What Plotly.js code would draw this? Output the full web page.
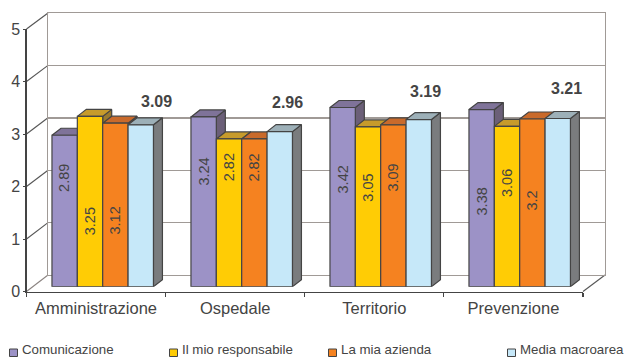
<!DOCTYPE html>
<html>
<head>
<meta charset="utf-8">
<script src="https://cdn.plot.ly/plotly-3.0.1.min.js"></script>
<style>html,body{margin:0;padding:0;background:#fff;overflow:hidden}</style>
</head>
<body>
<div id="chart" style="width:626px;height:358px"></div>
<script>
// Survey scores by macro-area
const categories = ['Amministrazione', 'Ospedale', 'Territorio', 'Prevenzione'];
const comunicazione = [2.89, 3.24, 3.42, 3.38];
const responsabile = [3.25, 2.82, 3.05, 3.06];
const azienda = [3.12, 2.82, 3.09, 3.2];
const media = [3.09, 2.96, 3.19, 3.21];
const seriesNames = ['Comunicazione', 'Il mio responsabile', 'La mia azienda', 'Media macroarea'];
const yTicks = [0, 1, 2, 3, 4, 5];

// Heights (in axis units) at which the rotated value labels sit
const labelHeights = [
  [2.07, 2.19, 2.04, 1.62],
  [1.25, 2.28, 1.89, 1.98],
  [1.27, 2.28, 2.09, 1.65]
];
// Anchor of the bold average labels, in bar-axis units
const avgLabelX = [0.386, 1.326, 2.319, 3.338];
const avgLabelY = [3.54, 3.51, 3.73, 3.79];

const W = 626, H = 358;
const fx = p => p / W, fy = p => 1 - p / H;

const values = [comunicazione, responsabile, azienda, media];
const frontColors = ['#9C92C6', '#FFCC05', '#F58220', '#C6E8F9'];
const topColors = ['#7F7399', '#C79B2B', '#C96A2B', '#9DB0B8'];
const sideColors = ['#6B5F78', '#9A7A2E', '#9A5A2A', '#7A7C7E'];
const edge = '#444444';
const ink = '#444444';
const wall = '#A09A96';
const family = '"Liberation Sans", Arial, sans-serif';

// Plot frame, in pixels
const front = { l: 26.5, r: 583, b: 291.5, t: 29 };
const back = { l: 48, r: 605, b: 275, t: 13 };
const bars = { l: 33.2, r: 589.2, b: 286.7, t: 24.7 };

const bargap = 0.27;
const barW = (1 - bargap) / 4;
const depthX = 9 / 139, depthY = 7 / 52.4;
const idx = categories.map((_, i) => i);

// Side and top faces sit behind the front faces, painted left to right
const traces = [];
values.forEach((vals, s) => {
  const xLeft = i => i - (1 - bargap) / 2 + s * barW;
  const side = { x: [], y: [] }, top = { x: [], y: [] };
  vals.forEach((v, i) => {
    const a = xLeft(i), b = a + barW;
    side.x.push(b, b + depthX, b + depthX, b, b, null);
    side.y.push(0, depthY, v + depthY, v, 0, null);
    top.x.push(a, b, b + depthX, a + depthX, a, null);
    top.y.push(v, v, v + depthY, v + depthY, v, null);
  });
  [[side, sideColors[s]], [top, topColors[s]]].forEach(([poly, color]) => {
    traces.push({
      type: 'scatter', mode: 'lines', x: poly.x, y: poly.y, xaxis: 'x3', yaxis: 'y3',
      fill: 'toself', fillcolor: color, line: { color: edge, width: 1.2 },
      hoverinfo: 'skip', showlegend: false
    });
  });
});

// Front faces
values.forEach((vals, s) => {
  traces.push({
    type: 'bar', name: seriesNames[s], x: idx, y: vals, xaxis: 'x4', yaxis: 'y4',
    marker: { color: frontColors[s], line: { color: edge, width: 1.2 } },
    showlegend: false
  });
});

// Category axis along the front of the floor
traces.push({
  type: 'scatter', mode: 'none', x: categories, y: categories.map(() => 0),
  xaxis: 'x', yaxis: 'y', hoverinfo: 'skip', showlegend: false
});
// Back wall grid
traces.push({
  type: 'scatter', mode: 'none', x: [0], y: [0],
  xaxis: 'x2', yaxis: 'y2', hoverinfo: 'skip', showlegend: false
});

const annotations = [];
labelHeights.forEach((row, s) => {
  row.forEach((h, i) => {
    annotations.push({
      xref: 'x4', yref: 'y4',
      x: i - (1 - bargap) / 2 + (s + 0.5) * barW, y: h,
      text: String(values[s][i]), textangle: -90, showarrow: false,
      font: { family, size: 14.5, color: ink }
    });
  });
});
media.forEach((v, i) => {
  annotations.push({
    xref: 'x4', yref: 'y4', x: avgLabelX[i], y: avgLabelY[i],
    text: '<b>' + v.toFixed(2) + '</b>', showarrow: false,
    font: { family, size: 16, color: ink }
  });
});

// Legend row
const legendX = [9.5, 169.5, 328.5, 507.5];
const shapes = [];
seriesNames.forEach((name, s) => {
  shapes.push({
    type: 'rect', xref: 'paper', yref: 'paper',
    x0: fx(legendX[s]), x1: fx(legendX[s] + 8), y0: fy(356.5), y1: fy(349),
    fillcolor: frontColors[s], line: { color: edge, width: 1 }
  });
  annotations.push({
    xref: 'paper', yref: 'paper', x: fx(legendX[s] + 11.5), y: fy(358),
    xanchor: 'left', yanchor: 'bottom', text: name, showarrow: false, borderpad: 0,
    font: { family, size: 13.3, color: ink }
  });
});

// Left wall and floor edges joining the front axes to the back wall
yTicks.forEach(t => {
  const u = t / 5;
  shapes.push({
    type: 'line', xref: 'paper', yref: 'paper', layer: 'below',
    x0: fx(front.l), y0: fy(front.b + (front.t - front.b) * u),
    x1: fx(back.l), y1: fy(back.b + (back.t - back.b) * u),
    line: { color: t === 0 ? '#8A8380' : '#555555', width: 1.1 }
  });
});
shapes.push({
  type: 'line', xref: 'paper', yref: 'paper', layer: 'below',
  x0: fx(front.r), y0: fy(front.b), x1: fx(back.r), y1: fy(back.b),
  line: { color: '#555555', width: 1.1 }
});

const hidden = { visible: false, fixedrange: true };
const layout = {
  width: W, height: H, autosize: false,
  margin: { l: 0, r: 0, t: 0, b: 0 },
  paper_bgcolor: '#fff', plot_bgcolor: 'rgba(0,0,0,0)',
  barmode: 'group', bargap, bargroupgap: 0,
  showlegend: false,
  font: { family, color: ink },
  xaxis: {
    domain: [fx(front.l), fx(front.r)], anchor: 'y', type: 'category',
    categoryorder: 'array', categoryarray: categories, range: [-0.5, 3.5],
    tickson: 'boundaries', ticks: 'outside', ticklen: 4, tickcolor: '#444', tickwidth: 1.2,
    ticklabelstandoff: 1,
    showline: true, linecolor: '#444', linewidth: 1.2, showgrid: false, zeroline: false,
    tickfont: { family, size: 16.5, color: ink }, fixedrange: true
  },
  yaxis: {
    domain: [fy(front.b), fy(front.t)], anchor: 'x', range: [0, 5],
    tickvals: yTicks, ticks: 'outside', ticklen: 2, tickcolor: '#444',
    showline: true, linecolor: '#444', linewidth: 1.2, showgrid: false, zeroline: false,
    tickfont: { family, size: 16, color: ink }, fixedrange: true
  },
  xaxis2: {
    domain: [fx(back.l), fx(back.r)], anchor: 'y2', range: [0, 1],
    showticklabels: false, ticks: '', showgrid: false, zeroline: false,
    showline: true, mirror: true, linecolor: wall, linewidth: 1.4, fixedrange: true
  },
  yaxis2: {
    domain: [fy(back.b), fy(back.t)], anchor: 'x2', range: [0, 5],
    tickvals: yTicks, showticklabels: false, ticks: '', showgrid: true,
    gridcolor: wall, gridwidth: 1.4, zeroline: false,
    showline: true, mirror: true, linecolor: wall, linewidth: 1.4, fixedrange: true
  },
  xaxis3: Object.assign({ domain: [fx(bars.l), fx(bars.r)], anchor: 'y3', range: [-0.5, 3.5] }, hidden),
  yaxis3: Object.assign({ domain: [fy(bars.b), fy(bars.t)], anchor: 'x3', range: [0, 5] }, hidden),
  xaxis4: Object.assign({ overlaying: 'x3', anchor: 'y4', range: [-0.5, 3.5] }, hidden),
  yaxis4: Object.assign({ overlaying: 'y3', anchor: 'x4', range: [0, 5] }, hidden),
  shapes, annotations
};

Plotly.newPlot('chart', traces, layout, { displayModeBar: false, responsive: false, staticPlot: true });
</script>
</body>
</html>
